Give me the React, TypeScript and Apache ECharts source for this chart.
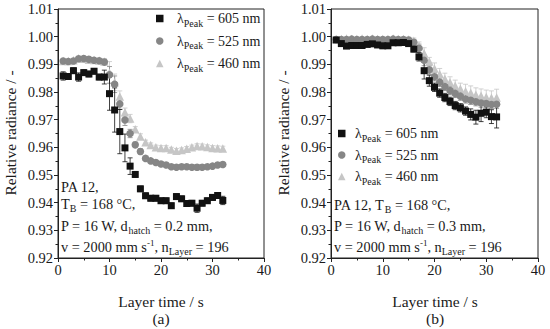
import React, { useEffect, useRef } from 'react';
import * as echarts from 'echarts';

const FONT = 'Liberation Serif';
const TXT = '#1a1a1a';

const time = [1, 2, 3, 4, 5, 6, 7, 8, 9, 10, 11, 12, 13, 14, 15, 16, 17, 18, 19, 20, 21, 22, 23, 24, 25, 26, 27, 28, 29, 30, 31, 32];
const xTicks = [0, 10, 20, 30, 40];
const yTicks = [0.92, 0.93, 0.94, 0.95, 0.96, 0.97, 0.98, 0.99, 1.0, 1.01];
const wavelengths = ['605', '525', '460'];

// (a) d_hatch = 0.2 mm
const a605 = [0.9858, 0.9856, 0.9877, 0.9854, 0.987, 0.9865, 0.9875, 0.9854, 0.9854, 0.9794, 0.9735, 0.9657, 0.9598, 0.9532, 0.9502, 0.945, 0.9425, 0.9416, 0.9416, 0.9407, 0.9407, 0.9389, 0.9422, 0.9414, 0.9397, 0.9398, 0.938, 0.9398, 0.9407, 0.9419, 0.9426, 0.9408];
const a605Err = [0.0015, 0.001, 0.001, 0.0015, 0.001, 0.001, 0.001, 0.001, 0.0025, 0.006, 0.008, 0.008, 0.005, 0.003, 0.001, 0.001, 0.001, 0.001, 0.001, 0.001, 0.001, 0.001, 0.001, 0.001, 0.001, 0.001, 0.0015, 0.001, 0.001, 0.001, 0.001, 0.0015];
const a525 = [0.9912, 0.991, 0.9912, 0.992, 0.9921, 0.9918, 0.9915, 0.9913, 0.9908, 0.9862, 0.9828, 0.9757, 0.9699, 0.965, 0.9609, 0.9585, 0.956, 0.9551, 0.9545, 0.954, 0.9536, 0.953, 0.9528, 0.953, 0.953, 0.9528, 0.9528, 0.9528, 0.953, 0.9532, 0.9536, 0.9538];
const a525Err = [0.0005, 0.0005, 0.0005, 0.0005, 0.0005, 0.0005, 0.0005, 0.0005, 0.001, 0.003, 0.003, 0.002, 0.002, 0.0015, 0.001, 0.001, 0.0008, 0.0008, 0.0008, 0.0008, 0.0008, 0.0008, 0.0008, 0.0008, 0.0008, 0.0008, 0.001, 0.0008, 0.0008, 0.0008, 0.0008, 0.0008];
const a460 = [0.9912, 0.9912, 0.9915, 0.9922, 0.992, 0.9917, 0.9916, 0.9914, 0.991, 0.987, 0.9835, 0.9784, 0.9727, 0.9704, 0.9665, 0.9639, 0.9618, 0.9608, 0.96, 0.9598, 0.9598, 0.9592, 0.9588, 0.959, 0.9595, 0.96, 0.9605, 0.9604, 0.9601, 0.9598, 0.9597, 0.9596];
const a460Err = [0.0005, 0.0005, 0.0005, 0.0005, 0.0005, 0.0005, 0.0005, 0.0005, 0.001, 0.004, 0.003, 0.002, 0.0015, 0.0015, 0.001, 0.001, 0.0008, 0.0008, 0.0008, 0.0008, 0.0008, 0.0008, 0.0008, 0.0008, 0.0008, 0.0008, 0.0008, 0.0008, 0.0008, 0.0008, 0.0008, 0.0008];

// (b) d_hatch = 0.3 mm
const b605 = [0.9988, 0.9975, 0.9966, 0.9968, 0.9968, 0.9968, 0.9972, 0.9974, 0.997, 0.9967, 0.9967, 0.9978, 0.9978, 0.9979, 0.9975, 0.9955, 0.9927, 0.9877, 0.9841, 0.9817, 0.9796, 0.978, 0.9766, 0.9751, 0.9743, 0.9731, 0.9719, 0.9709, 0.9723, 0.9727, 0.9711, 0.971];
const b605Err = [0.0006, 0.0006, 0.0006, 0.0006, 0.0006, 0.0006, 0.0008, 0.0006, 0.0006, 0.001, 0.0006, 0.0006, 0.0006, 0.0006, 0.0008, 0.001, 0.0015, 0.003, 0.002, 0.0015, 0.0015, 0.0015, 0.0015, 0.0015, 0.0015, 0.0015, 0.002, 0.0025, 0.003, 0.002, 0.0025, 0.004];
const b525 = [0.999, 0.999, 0.999, 0.9991, 0.999, 0.999, 0.999, 0.9991, 0.999, 0.999, 0.999, 0.9991, 0.999, 0.999, 0.9988, 0.998, 0.9958, 0.9915, 0.988, 0.9855, 0.9835, 0.982, 0.9805, 0.9795, 0.9785, 0.9775, 0.977, 0.9765, 0.976, 0.9758, 0.9755, 0.9756];
const b525Err = [0.0005, 0.0005, 0.0005, 0.0005, 0.0005, 0.0005, 0.0005, 0.0005, 0.0005, 0.0005, 0.0005, 0.0005, 0.0005, 0.0005, 0.0008, 0.001, 0.0015, 0.002, 0.0015, 0.0015, 0.0015, 0.0015, 0.0015, 0.0015, 0.0015, 0.0015, 0.0015, 0.0015, 0.0015, 0.0015, 0.0015, 0.0015];
const b460 = [0.9992, 0.9992, 0.9993, 0.9992, 0.9992, 0.9993, 0.9992, 0.9993, 0.9992, 0.9992, 0.9992, 0.9993, 0.9992, 0.9992, 0.999, 0.9985, 0.9966, 0.994, 0.991, 0.9885, 0.9865, 0.9848, 0.9835, 0.9823, 0.9812, 0.9803, 0.9797, 0.979, 0.9786, 0.9782, 0.9779, 0.978];
const b460Err = [0.0005, 0.0005, 0.0005, 0.0005, 0.0005, 0.0005, 0.0005, 0.0005, 0.0005, 0.0005, 0.0005, 0.0005, 0.0005, 0.0005, 0.0008, 0.001, 0.0015, 0.002, 0.0015, 0.002, 0.002, 0.002, 0.002, 0.002, 0.002, 0.0025, 0.0025, 0.0025, 0.0025, 0.0025, 0.0025, 0.003];

const markers: Record<string, { symbol: string; size: number; color: string }> = {
  '605': { symbol: 'rect', size: 7, color: '#111111' },
  '525': { symbol: 'circle', size: 7.5, color: '#868686' },
  '460': { symbol: 'triangle', size: 8.5, color: '#c6c6c6' },
};

function richStyles(fontSize: number, padL: number) {
  return {
    l: { fontFamily: FONT, fontSize, color: TXT, lineHeight: 18, padding: [0, 0, 0, padL] },
    m: { fontFamily: FONT, fontSize, color: TXT, lineHeight: 18 },
    sub: { fontFamily: FONT, fontSize: 10, color: TXT, lineHeight: 8, padding: [9, 0, 0, 0] },
    sup: { fontFamily: FONT, fontSize: 9, color: TXT, lineHeight: 8, padding: [0, 0, 9, 0] },
  };
}

function textEl(x: number, y: number, text: string, align = 'left') {
  return {
    type: 'text',
    x,
    y,
    silent: true,
    style: {
      text,
      align,
      verticalAlign: 'middle',
      rich: richStyles(14.3, 0),
      fontFamily: FONT,
      fontSize: 14.3,
      fill: TXT,
    },
  };
}

function plainText(x: number, y: number, text: string, size: number, rotation = 0) {
  return {
    type: 'text',
    x,
    y,
    rotation,
    silent: true,
    style: { text, align: 'center', verticalAlign: 'middle', fontFamily: FONT, fontSize: size, fill: TXT },
  };
}

export default function App() {
  const ref = useRef<HTMLDivElement>(null);
  useEffect(() => {
    document.body.style.margin = '0';
    const chart = echarts.init(ref.current!, null, { renderer: 'svg' });

    const grids = [
      { left: 58, top: 9, width: 206, height: 249 },
      { left: 331, top: 9, width: 207, height: 249 },
    ];

    const xAxis = grids.map((_, i) => ({
      gridIndex: i,
      type: 'value',
      min: xTicks[0],
      max: xTicks[xTicks.length - 1],
      interval: 10,
      axisLine: { show: true, onZero: false, lineStyle: { color: '#222', width: 1 } },
      axisTick: { show: true, length: 4, lineStyle: { color: '#222' } },
      minorTick: { show: true, splitNumber: 2, length: 2.5, lineStyle: { color: '#222' } },
      splitLine: { show: false },
      axisLabel: { fontFamily: FONT, fontSize: 14.5, color: TXT, margin: 4 },
    }));

    const yAxis = grids.map((_, i) => ({
      gridIndex: i,
      type: 'value',
      min: yTicks[0],
      max: yTicks[yTicks.length - 1],
      interval: 0.01,
      axisLine: { show: true, onZero: false, lineStyle: { color: '#222', width: 1 } },
      axisTick: { show: true, length: 4, lineStyle: { color: '#222' } },
      minorTick: { show: true, splitNumber: 2, length: 2.5, lineStyle: { color: '#222' } },
      splitLine: { show: false },
      axisLabel: {
        fontFamily: FONT,
        fontSize: 14.5,
        color: TXT,
        margin: 5,
        formatter: (v: number) => v.toFixed(2),
      },
    }));

    const panels = [
      { vals: { '605': a605, '525': a525, '460': a460 }, errs: { '605': a605Err, '525': a525Err, '460': a460Err } },
      { vals: { '605': b605, '525': b525, '460': b460 }, errs: { '605': b605Err, '525': b525Err, '460': b460Err } },
    ];

    const series: any[] = [];
    const order = ['460', '525', '605'];
    panels.forEach((p: any, gi) => {
      order.forEach((w) => {
        const m = markers[w];
        const data = time.map((t, k) => [t, p.vals[w][k], p.errs[w][k]]);
        series.push({
          type: 'custom',
          name: 'err' + w + '_' + gi,
          xAxisIndex: gi,
          yAxisIndex: gi,
          silent: true,
          z: 1,
          data,
          encode: { x: 0, y: 1 },
          renderItem: (params: any, api: any) => {
            const x = api.value(0);
            const y = api.value(1);
            const e = api.value(2);
            const top = api.coord([x, y + e]);
            const bot = api.coord([x, y - e]);
            const hw = 2.5;
            const st = { stroke: m.color, lineWidth: 0.8 };
            return {
              type: 'group',
              children: [
                { type: 'line', shape: { x1: top[0], y1: top[1], x2: bot[0], y2: bot[1] }, style: st },
                { type: 'line', shape: { x1: top[0] - hw, y1: top[1], x2: top[0] + hw, y2: top[1] }, style: st },
                { type: 'line', shape: { x1: bot[0] - hw, y1: bot[1], x2: bot[0] + hw, y2: bot[1] }, style: st },
              ],
            };
          },
        });
      });
      order.forEach((w) => {
        const m = markers[w];
        series.push({
          type: 'scatter',
          name: w,
          xAxisIndex: gi,
          yAxisIndex: gi,
          symbol: m.symbol,
          symbolSize: m.size,
          z: 2,
          itemStyle: { color: m.color, opacity: 1 },
          data: time.map((t, k) => [t, p.vals[w][k]]),
        });
      });
    });

    const legendFmt = (n: string) => `{l|λ}{sub|Peak}{m| = ${n} nm}`;

    const option: any = {
      animation: false,
      textStyle: { fontFamily: FONT },
      grid: grids.map((g) => ({ ...g, show: true, borderColor: '#222', borderWidth: 1, backgroundColor: 'transparent' })),
      xAxis,
      yAxis,
      legend: [
        {
          data: wavelengths,
          orient: 'vertical',
          left: 156,
          top: 9,
          padding: 0,
          itemWidth: 7.5,
          itemHeight: 7.5,
          itemGap: 3.5,
          selectedMode: false,
          formatter: legendFmt,
          textStyle: { fontFamily: FONT, fontSize: 14, rich: richStyles(14, 8.5) },
        },
        {
          data: wavelengths,
          orient: 'vertical',
          left: 338,
          top: 124,
          padding: 0,
          itemWidth: 7.5,
          itemHeight: 7.5,
          itemGap: 2.5,
          selectedMode: false,
          formatter: legendFmt,
          textStyle: { fontFamily: FONT, fontSize: 14, rich: richStyles(14, 4.5) },
        },
      ],
      graphic: [
        textEl(61, 187, '{m|PA 12,}'),
        textEl(61, 204, '{m|T}{sub|B}{m| = 168 °C,}'),
        textEl(61, 226, '{m|P = 16 W, d}{sub|hatch}{m| = 0.2 mm,}'),
        textEl(61, 247, '{m|v = 2000 mm s}{sup|-1}{m|, n}{sub|Layer}{m| = 196}'),
        textEl(334, 205, '{m|PA 12, T}{sub|B}{m| = 168 °C,}'),
        textEl(334, 226, '{m|P = 16 W, d}{sub|hatch}{m| = 0.3 mm,}'),
        textEl(334, 247, '{m|v = 2000 mm s}{sup|-1}{m|, n}{sub|Layer}{m| = 196}'),
        plainText(161, 301, 'Layer time / s', 15.5),
        plainText(161, 318, '(a)', 15.5),
        plainText(435, 301, 'Layer time / s', 15.5),
        plainText(435, 318, '(b)', 15.5),
        plainText(10, 133, 'Relative radiance / -', 15.5, Math.PI / 2),
        plainText(283, 133, 'Relative radiance / -', 15.5, Math.PI / 2),
      ],
      series,
    };

    chart.setOption(option);
    return () => chart.dispose();
  }, []);
  return <div ref={ref} style={{ width: 550, height: 329 }} />;
}
